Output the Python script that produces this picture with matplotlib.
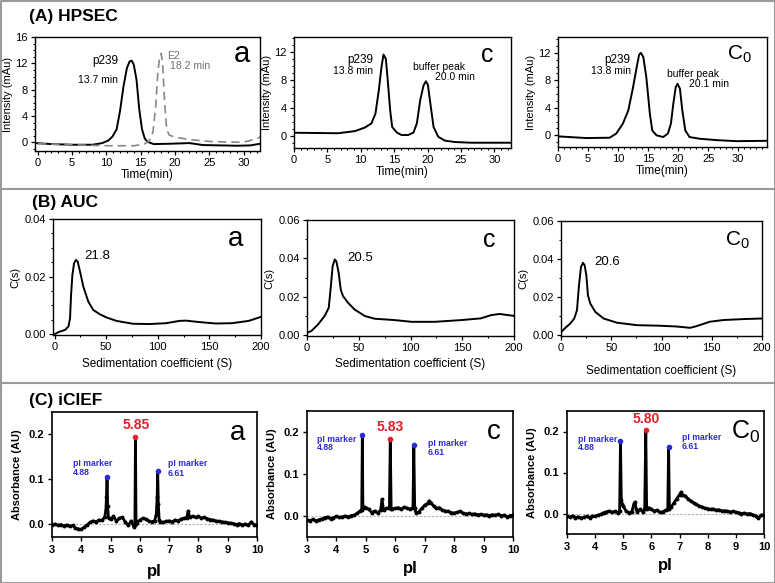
import matplotlib
matplotlib.use("Agg")
import matplotlib.pyplot as plt
from matplotlib.ticker import MultipleLocator
from matplotlib.lines import Line2D

plt.rcParams['font.family'] = ['Liberation Sans', 'DejaVu Sans']
plt.rcParams['mathtext.fontset'] = 'custom'
plt.rcParams['mathtext.rm'] = 'Liberation Sans'

# ---------------- data ----------------
# (A) HPSEC
sec_a_t = [-0.3, 2, 5, 8, 9.4, 10.3, 10.9, 11.5, 12.0, 12.5, 13.0, 13.4, 13.7, 14.0, 14.4, 14.8, 15.2, 15.6, 16.0,
           16.9, 19.2, 22.1, 24.1, 26.6, 29.1, 31.0, 32.4]
sec_a_y = [-0.1, -0.25, -0.35, -0.35, -0.1, 0.3, 0.9, 2.0, 4.8, 8.5, 11.3, 12.3, 12.4, 11.8, 9.5, 5.0, 2.0, 0.6, 0.1,
           -0.25, -0.2, -0.1, -0.4, -0.45, -0.5, -0.45, -0.2]
sec_e2_t = [0, 4, 8, 10, 14, 15.5, 16.3, 16.8, 17.2, 17.5, 17.8, 18.0, 18.2, 18.5, 18.8, 19.2, 20, 22, 25, 28, 30,
            31, 32.4]
sec_e2_y = [-0.2, -0.3, -0.45, -0.5, -0.5, -0.3, 0.3, 1.6, 5.5, 10.5, 13.2, 13.5, 12.0, 6.0, 1.9, 1.1, 0.8, 0.45,
            0.15, 0.05, 0.05, 0.3, 0.8]
sec_c_t = [0, 6.6, 9.1, 10.6, 11.6, 12.2, 12.7, 13.1, 13.4, 13.75, 14.0, 14.4, 14.7, 15.4, 16.1, 17.1, 17.9, 18.4,
           18.9, 19.4, 19.75, 20.05, 20.4, 20.9, 21.6, 22.6, 24.1, 26.6, 29.1, 32.5]
sec_c_y = [0.47, 0.4, 0.7, 1.2, 1.8, 3.2, 6.5, 9.8, 11.6, 11.0, 8.4, 3.7, 1.3, 0.5, 0.15, 0.15, 0.5, 1.8, 5.1, 7.2,
           7.8, 7.3, 4.8, 1.3, -0.1, -0.65, -0.85, -0.95, -0.95, -0.95]
sec_c0_t = [0, 4.7, 8.6, 9.7, 10.8, 11.7, 12.5, 13.1, 13.5, 13.8, 14.2, 14.7, 15.3, 15.7, 16.4, 17.5, 18.3, 18.8,
            19.2, 19.6, 19.9, 20.3, 20.7, 21.2, 21.9, 23.6, 26.4, 29.7, 34.8]
sec_c0_y = [-0.15, -0.4, -0.35, 0.25, 1.7, 3.6, 7.0, 9.9, 11.7, 12.0, 11.4, 8.5, 3.1, 0.7, 0.0, -0.25, 0.25, 1.7,
            4.6, 7.0, 7.5, 6.8, 3.6, 0.7, -0.25, -0.5, -0.7, -0.85, -0.8]

# (B) AUC
auc_a_s = [0, 3.8, 10.3, 13.5, 15, 16, 17.3, 18.9, 20.8, 22.4, 24.7, 27.9, 32.7, 37.5, 43.9, 50.3, 60, 76, 92, 108,
           121, 127, 140, 156, 172, 188, 200]
auc_a_c = [0.0, 0.0007, 0.0015, 0.0027, 0.0055, 0.0136, 0.0206, 0.0246, 0.0258, 0.0252, 0.0217, 0.0165, 0.0113,
           0.0084, 0.0069, 0.0058, 0.0046, 0.0036, 0.0035, 0.0038, 0.0046, 0.0047, 0.0042, 0.0037, 0.0038, 0.0046,
           0.0060]
auc_c_s = [0, 4.2, 10.6, 17, 21, 22.9, 24.8, 26.8, 28.4, 30.6, 32.6, 34.8, 39.7, 46, 56, 65.5, 84.8, 101, 123.5,
           149, 168, 178, 186, 194, 200]
auc_c_c = [0.0012, 0.0021, 0.0055, 0.0099, 0.0142, 0.0246, 0.036, 0.0394, 0.0384, 0.0324, 0.0237, 0.0203, 0.0168,
           0.0133, 0.0099, 0.0085, 0.0078, 0.0069, 0.0069, 0.0078, 0.0087, 0.0104, 0.0110, 0.0104, 0.0100]
auc_c0_s = [0, 4.3, 9.3, 13.2, 15.9, 17.9, 19.9, 21.9, 23.5, 25.2, 26.8, 29.1, 34.1, 42.4, 55.6, 75.5, 98.7, 115,
            128.5, 135, 148, 161.6, 181.5, 200]
auc_c0_c = [0.0014, 0.0038, 0.0061, 0.0087, 0.0131, 0.0262, 0.0359, 0.0380, 0.0367, 0.0315, 0.0210, 0.0166,
            0.0122, 0.0087, 0.0065, 0.0052, 0.0049, 0.0045, 0.0038, 0.0047, 0.0070, 0.0079, 0.0084, 0.0087]

# (C) iCIEF
cief_a_pi = [3.0, 3.1, 3.2, 3.3, 3.4, 3.5, 3.6, 3.7, 3.8, 3.9, 4.0, 4.1, 4.2, 4.3, 4.4, 4.5, 4.6, 4.7, 4.8, 4.84,
             4.86, 4.88, 4.90, 4.93, 5.0, 5.1, 5.2, 5.3, 5.4, 5.5, 5.6, 5.7, 5.8, 5.83, 5.85, 5.87, 5.9, 6.0, 6.1,
             6.2, 6.3, 6.4, 6.5, 6.56, 6.59, 6.61, 6.63, 6.66, 6.7, 6.8, 6.9, 7.0, 7.1, 7.2, 7.3, 7.4, 7.5, 7.6,
             7.65, 7.7, 7.8, 7.9, 8.0, 8.1, 8.2, 8.3, 8.4, 8.5, 8.6, 8.7, 8.8, 8.9, 9.0, 9.1, 9.2, 9.3, 9.4, 9.5,
             9.6, 9.7, 9.8, 9.9, 10.0]
cief_a_abs = [-0.003, -0.001, -0.004, -0.002, -0.005, -0.003, -0.006, -0.004, -0.010, -0.012, -0.013, -0.008,
              -0.003, 0.003, 0.006, 0.004, 0.008, 0.007, 0.015, 0.030, 0.060, 0.105, 0.040, 0.012, 0.010, 0.016,
              0.006, 0.012, 0.014, 0.004, -0.004, 0.006, -0.008, -0.002, 0.195, 0.000, 0.002, 0.008, 0.012, 0.010,
              0.006, 0.004, 0.006, 0.020, 0.060, 0.117, 0.045, 0.008, 0.004, 0.003, 0.005, 0.006, 0.004, 0.008,
              0.006, 0.010, 0.012, 0.013, 0.028, 0.015, 0.016, 0.014, 0.016, 0.012, 0.014, 0.011, 0.009, 0.008,
              0.006, 0.005, 0.004, 0.003, 0.002, 0.001, 0.000, -0.002, 0.000, -0.003, -0.001, -0.004, 0.004,
              -0.002, -0.003]
cief_c_pi = [3.0, 3.1, 3.2, 3.3, 3.4, 3.5, 3.6, 3.7, 3.8, 3.9, 4.0, 4.1, 4.2, 4.3, 4.4, 4.5, 4.6, 4.7, 4.8,
             4.86, 4.88, 4.90, 4.95, 5.0, 5.1, 5.2, 5.3, 5.4, 5.5, 5.55, 5.6, 5.7, 5.8, 5.83, 5.86, 5.9, 6.0, 6.1,
             6.2, 6.3, 6.4, 6.5, 6.6, 6.63, 6.66, 6.7, 6.8, 6.9, 7.0, 7.1, 7.15, 7.2, 7.3, 7.4, 7.5, 7.6, 7.7, 7.8,
             7.9, 8.0, 8.1, 8.2, 8.3, 8.4, 8.5, 8.6, 8.7, 8.8, 8.9, 9.0, 9.1, 9.2, 9.3, 9.4, 9.5, 9.6, 9.7, 9.8,
             9.9, 10.0]
cief_c_abs = [-0.009, -0.011, -0.008, -0.012, -0.009, -0.007, -0.004, -0.002, -0.006, -0.004, -0.001, -0.003,
              -0.002, 0.000, -0.002, 0.001, 0.002, 0.006, 0.012, 0.015, 0.192, 0.018, 0.022, 0.020, 0.016, 0.008,
              0.012, 0.007, 0.014, 0.040, 0.014, 0.018, 0.020, 0.184, 0.016, 0.017, 0.018, 0.020, 0.016, 0.021,
              0.019, 0.016, 0.020, 0.168, 0.018, 0.008, 0.010, 0.018, 0.026, 0.030, 0.036, 0.032, 0.024, 0.018,
              0.020, 0.014, 0.012, 0.011, 0.008, 0.007, 0.009, 0.011, 0.007, 0.005, 0.006, 0.004, 0.005, 0.003,
              0.004, 0.002, 0.003, 0.001, 0.003, 0.002, 0.004, 0.001, 0.002, -0.002, 0.001, 0.002]
cief_c0_pi = [3.0, 3.1, 3.2, 3.3, 3.4, 3.5, 3.6, 3.7, 3.8, 3.9, 4.0, 4.1, 4.2, 4.3, 4.4, 4.5, 4.6, 4.7, 4.8,
              4.87, 4.90, 4.93, 4.96, 5.0, 5.1, 5.2, 5.3, 5.38, 5.42, 5.46, 5.5, 5.6, 5.7, 5.76, 5.8, 5.83, 5.9,
              6.0, 6.1, 6.2, 6.3, 6.4, 6.5, 6.58, 6.61, 6.64, 6.7, 6.8, 6.9, 7.0, 7.05, 7.1, 7.2, 7.3, 7.4, 7.5,
              7.6, 7.7, 7.8, 7.9, 8.0, 8.1, 8.2, 8.3, 8.4, 8.5, 8.6, 8.7, 8.8, 8.9, 9.0, 9.1, 9.2, 9.3, 9.4, 9.5,
              9.6, 9.7, 9.8, 9.9, 10.0]
cief_c0_abs = [-0.007, -0.009, -0.006, -0.010, -0.008, -0.011, -0.009, -0.007, -0.010, -0.006, -0.007, -0.004,
               -0.002, 0.002, 0.004, 0.006, 0.003, 0.005, 0.001, 0.006, 0.178, 0.034, 0.022, 0.018, 0.006, 0.002,
               0.004, 0.024, 0.028, 0.010, 0.004, 0.010, 0.004, 0.012, 0.204, 0.012, 0.014, 0.010, 0.006, 0.008,
               0.003, 0.004, 0.008, 0.010, 0.163, 0.012, 0.016, 0.026, 0.036, 0.046, 0.052, 0.046, 0.043, 0.036,
               0.030, 0.026, 0.022, 0.018, 0.016, 0.013, 0.012, 0.010, 0.011, 0.008, 0.009, 0.006, 0.007, 0.005,
               0.004, 0.005, 0.003, 0.002, 0.000, 0.001, -0.001, 0.000, -0.003, -0.006, -0.012, -0.004, -0.003]

# peak annotations
cief_main_pi = [5.85, 5.83, 5.80]
cief_main_abs = [0.195, 0.184, 0.204]
cief_m1_pi = [4.88, 4.88, 4.90]
cief_m1_abs = [0.105, 0.192, 0.178]
cief_m2_pi = [6.61, 6.63, 6.61]
cief_m2_abs = [0.117, 0.168, 0.163]
cief_main_labels = ["5.85", "5.83", "5.80"]

# ---------------- figure ----------------
W, H = 775, 583
fig = plt.figure(figsize=(W / 100, H / 100), dpi=100)


def ax_px(l, t, r, b):
    return fig.add_axes([l / W, 1 - b / H, (r - l) / W, (b - t) / H])


def style(ax, lab=8):
    for s in ax.spines.values():
        s.set_linewidth(1.0)
    ax.tick_params(which='major', direction='out', length=3, width=0.9, labelsize=lab, pad=2)
    ax.tick_params(which='minor', direction='out', length=1.6, width=0.8)


# frame and dividers
gray = '#9a9a9a'
fig.add_artist(Line2D([0.5 / W, 0.5 / W, 1 - 0.5 / W, 1 - 0.5 / W, 0.5 / W],
                      [0.5 / H, 1 - 0.5 / H, 1 - 0.5 / H, 0.5 / H, 0.5 / H],
                      transform=fig.transFigure, color=gray, lw=1.5))
for yy in (189, 383):
    fig.add_artist(Line2D([0, 1], [1 - yy / H, 1 - yy / H], transform=fig.transFigure, color=gray, lw=1.5))

fig.text(29 / W, 1 - 17 / H, "(A) HPSEC", fontsize=12.5, fontweight='bold', va='center', ha='left')
fig.text(32 / W, 1 - 203 / H, "(B) AUC", fontsize=12.5, fontweight='bold', va='center', ha='left')
fig.text(29 / W, 1 - 401 / H, "(C) iCIEF", fontsize=12.5, fontweight='bold', va='center', ha='left')

# ---- HPSEC ----
hp_axes = [ax_px(35, 37, 260, 151), ax_px(294, 37, 511, 148), ax_px(558, 37, 767, 147)]
hp_xlim = [(-0.4, 32.4), (0, 32.5), (0, 34.8)]
hp_ylim = [(-1.3, 16), (-1.7, 14.1), (-1.7, 14.3)]
hp_t = [sec_a_t, sec_c_t, sec_c0_t]
hp_y = [sec_a_y, sec_c_y, sec_c0_y]
for i, ax in enumerate(hp_axes):
    ax.plot(hp_t[i], hp_y[i], color='black', lw=1.4, solid_joinstyle='round')
    ax.set_xlim(*hp_xlim[i])
    ax.set_ylim(*hp_ylim[i])
    ax.xaxis.set_major_locator(MultipleLocator(5))
    ax.xaxis.set_minor_locator(MultipleLocator(1))
    ax.yaxis.set_major_locator(MultipleLocator(4))
    ax.yaxis.set_minor_locator(MultipleLocator(1))
    ax.set_xlabel("Time(min)", fontsize=8.5, labelpad=1)
    ax.set_ylabel("Intensity (mAu)", fontsize=8, labelpad=2)
    style(ax)
hp_axes[0].set_yticks([0, 4, 8, 12, 16])
hp_axes[0].plot(sec_e2_t, sec_e2_y, color='#888888', lw=1.2, ls=(0, (5, 3)))

ax = hp_axes[0]
ax.text(11.7, 12.3, "p239", fontsize=8.5, ha='right', va='center')
ax.text(11.7, 9.4, "13.7 min", fontsize=7.5, ha='right', va='center')
ax.text(18.8, 13.1, "E2", fontsize=7.5, ha='left', va='center', color='#6e6e6e')
ax.text(19.3, 11.6, "18.2 min", fontsize=7.5, ha='left', va='center', color='#6e6e6e')
ax.text(0.92, 0.85, "a", fontsize=21, ha='center', va='center', transform=ax.transAxes)

ax = hp_axes[1]
ax.text(11.8, 10.8, "p239", fontsize=8.5, ha='right', va='center')
ax.text(11.8, 9.3, "13.8 min", fontsize=7.5, ha='right', va='center')
ax.text(17.8, 9.8, "buffer peak", fontsize=7.5, ha='left', va='center')
ax.text(21.1, 8.4, "20.0 min", fontsize=7.5, ha='left', va='center')
ax.text(0.89, 0.84, "c", fontsize=18, ha='center', va='center', transform=ax.transAxes)

ax = hp_axes[2]
ax.text(12.1, 11.0, "p239", fontsize=8.5, ha='right', va='center')
ax.text(12.1, 9.3, "13.8 min", fontsize=7.5, ha='right', va='center')
ax.text(18.1, 8.9, "buffer peak", fontsize=7.5, ha='left', va='center')
ax.text(21.8, 7.4, "20.1 min", fontsize=7.5, ha='left', va='center')
ax.text(0.87, 0.84, r"C$_{\mathrm{0}}$", fontsize=15, ha='center', va='center', transform=ax.transAxes)

# ---- AUC ----
auc_axes = [ax_px(53, 219, 261, 335), ax_px(307, 220, 514, 336), ax_px(561, 221, 762, 336)]
auc_xlim = [(-1.5, 200), (0, 200), (0, 200)]
auc_ylim = [(-0.0003, 0.04), (-0.0005, 0.06), (-0.0005, 0.06)]
auc_s = [auc_a_s, auc_c_s, auc_c0_s]
auc_c = [auc_a_c, auc_c_c, auc_c0_c]
auc_peak = ["21.8", "20.5", "20.6"]
auc_peak_xy = [(29, 0.0272), (39, 0.0404), (33, 0.0385)]
auc_letters = ["a", "c", r"C$_{\mathrm{0}}$"]
auc_letter_size = [20, 18, 15]
for i, ax in enumerate(auc_axes):
    ax.plot(auc_s[i], auc_c[i], color='black', lw=1.4, solid_joinstyle='round')
    ax.set_xlim(*auc_xlim[i])
    ax.set_ylim(*auc_ylim[i])
    ax.xaxis.set_major_locator(MultipleLocator(50))
    ax.xaxis.set_minor_locator(MultipleLocator(25))
    ax.yaxis.set_major_locator(MultipleLocator(0.02))
    ax.yaxis.set_minor_locator(MultipleLocator(0.005 if i == 0 else 0.01))
    ax.yaxis.set_major_formatter(matplotlib.ticker.FormatStrFormatter('%.2f'))
    ax.set_xlabel("Sedimentation coefficient (S)", fontsize=8.5, labelpad=4 if i < 2 else 9)
    ax.set_ylabel("C(s)", fontsize=8, labelpad=3)
    style(ax)
    ax.text(auc_peak_xy[i][0], auc_peak_xy[i][1], auc_peak[i], fontsize=9.5, ha='left', va='center')
    ax.text(0.88, 0.83, auc_letters[i], fontsize=auc_letter_size[i], ha='center', va='center',
            transform=ax.transAxes)

# ---- iCIEF ----
ci_axes = [ax_px(52, 412, 257, 537), ax_px(307, 411, 513, 537), ax_px(567, 411, 764, 534)]
ci_ylim = [(-0.03, 0.25), (-0.05, 0.25), (-0.05, 0.25)]
ci_pi = [cief_a_pi, cief_c_pi, cief_c0_pi]
ci_abs = [cief_a_abs, cief_c_abs, cief_c0_abs]
ci_main_txt = [(5.87, 0.221), (5.82, 0.212), (5.81, 0.231)]
ci_m1_txt = [(3.70, 0.135, 0.114), (3.34, 0.183, 0.162), (3.39, 0.181, 0.161)]
ci_m2_txt = [(6.95, 0.135, 0.113), (7.10, 0.172, 0.152), (7.08, 0.185, 0.163)]
ci_letters = ["a", "c", r"C$_{\mathrm{0}}$"]
ci_letter_size = [20, 20, 18]
blue = '#2b2bd6'
red = '#e0202a'
for i, ax in enumerate(ci_axes):
    ax.axhline(0, color='#b0b0b0', lw=0.8, ls=(0, (2, 1.5)), zorder=1)
    ax.plot(ci_pi[i], ci_abs[i], color='black', lw=2.0, marker='o', ms=1.8, zorder=2,
            solid_joinstyle='round')
    ax.plot([cief_main_pi[i]], [cief_main_abs[i]], 'o', color=red, ms=3, zorder=3)
    ax.plot([cief_m1_pi[i], cief_m2_pi[i]], [cief_m1_abs[i], cief_m2_abs[i]], 'o', color=blue, ms=3, zorder=3)
    ax.set_xlim(3, 10)
    ax.set_ylim(*ci_ylim[i])
    ax.xaxis.set_major_locator(MultipleLocator(1))
    ax.yaxis.set_major_locator(MultipleLocator(0.1))
    ax.yaxis.set_major_formatter(matplotlib.ticker.FormatStrFormatter('%.1f'))
    ax.set_xlabel("pI", fontsize=12, fontweight='bold', labelpad=6 if i == 0 else 4)
    ax.set_ylabel("Absorbance (AU)", fontsize=8, fontweight='bold', labelpad=4)
    for s in ax.spines.values():
        s.set_linewidth(1.2)
    ax.tick_params(which='major', direction='out', length=3, width=1.0, labelsize=8, pad=3)
    for tl in ax.get_xticklabels() + ax.get_yticklabels():
        tl.set_fontweight('bold')
    mx, my = ci_main_txt[i]
    ax.text(mx, my, cief_main_labels[i], color=red, fontsize=10, fontweight='bold', ha='center', va='center')
    x1, y1a, y1b = ci_m1_txt[i]
    ax.text(x1, y1a, "pI marker", color=blue, fontsize=6.2, fontweight='bold', ha='left', va='center')
    ax.text(x1, y1b, "4.88", color=blue, fontsize=6.2, fontweight='bold', ha='left', va='center')
    x2, y2a, y2b = ci_m2_txt[i]
    ax.text(x2, y2a, "pI marker", color=blue, fontsize=6.2, fontweight='bold', ha='left', va='center')
    ax.text(x2, y2b, "6.61", color=blue, fontsize=6.2, fontweight='bold', ha='left', va='center')
    ax.text(0.905, 0.83, ci_letters[i], fontsize=ci_letter_size[i], ha='center', va='center',
            transform=ax.transAxes)

fig.savefig("out.png", dpi=100)
